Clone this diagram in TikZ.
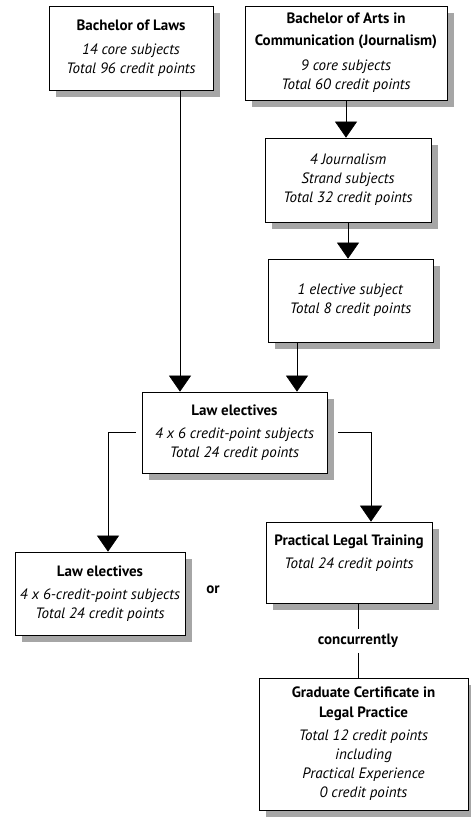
\documentclass[tikz,border=0pt]{standalone}
\usepackage{fontspec}
\setmainfont{PT Sans}
\usetikzlibrary{arrows.meta}
\begin{document}
\begin{tikzpicture}[x=1pt,y=-1pt,
  box/.style={draw=black, line width=0.7pt, fill=white, align=center, inner sep=0pt,
    font=\fontsize{15}{19}\selectfont,
    preaction={fill=black!35, draw=none, transform canvas={shift={(7pt,-7pt)}}}},
  conn/.style={line width=0.6pt, draw=black},
  arr/.style={conn, -{Triangle[width=22pt,length=16pt]}},
  lbl/.style={font=\fontsize{15}{17}\selectfont\bfseries, inner sep=3pt}]
\useasboundingbox (0,0) rectangle (471,819);
\node[box, minimum width=164pt, minimum height=84pt] (b1) at (131,48)
  {\textbf{Bachelor of Laws}\\[5pt]\textit{14 core subjects}\\\textit{Total 96 credit points}};
\node[box, minimum width=202pt, minimum height=94pt] (b2) at (346,53)
  {\textbf{Bachelor of Arts in}\\[3pt]\textbf{Communication (Journalism)}\\[6pt]\textit{9 core subjects}\\\textit{Total 60 credit points}};
\node[box, minimum width=166pt, minimum height=84pt] (b3) at (348,180)
  {\textit{4 Journalism}\\\textit{Strand subjects}\\\textit{Total 32 credit points}};
\node[box, minimum width=165pt, minimum height=83pt] (b4) at (350.5,300.5)
  {\textit{1 elective subject}\\\textit{Total 8 credit points}};
\node[box, minimum width=185pt, minimum height=81pt] (b5) at (234.5,432.5)
  {\textbf{Law electives}\\[4pt]\textit{4 x 6 credit-point subjects}\\\textit{Total 24 credit points}};
\node[box, minimum width=170pt, minimum height=83pt] (b6) at (100,593.5)
  {\textbf{Law electives}\\[4pt]\textit{4 x 6-credit-point subjects}\\\textit{Total 24 credit points}};
\node[box, minimum width=166pt, minimum height=81pt, text depth=22pt] (b7) at (349,562.5)
  {\textbf{Practical Legal Training}\\[4pt]\textit{Total 24 credit points}};
\node[box, minimum width=209pt, minimum height=132pt] (b8) at (363.5,744)
  {\textbf{Graduate Certificate in}\\[1pt]\textbf{Legal Practice}\\[4pt]\textit{Total 12 credit points}\\\textit{including}\\\textit{Practical Experience}\\\textit{0 credit points}};
\node[lbl] (or) at (213,590) {or};
\node[lbl, inner sep=5pt] (conc) at (358,641) {concurrently};
\coordinate (c1) at (180,0);
\coordinate (c2) at (297,0);
\coordinate (c3) at (108,0);
\coordinate (c4) at (371,0);
\coordinate (c5) at (358,0);
\draw[arr] (b2.south) -- (b3.north -| b2.south);
\draw[arr] (b3.south) -- (b4.north -| b3.south);
\draw[arr] (b1.south -| c1) -- (b5.north -| c1);
\draw[arr] (b4.south -| c2) -- (b5.north -| c2);
\draw[arr] ([xshift=-6pt]b5.west) -| (b6.north -| c3);
\draw[arr] ([xshift=11pt]b5.east) -| (b7.north -| c4);
\draw[conn] (b7.south -| c5) -- (conc.north);
\draw[conn] (conc.south) -- (b8.north -| c5);
\end{tikzpicture}
\end{document}
